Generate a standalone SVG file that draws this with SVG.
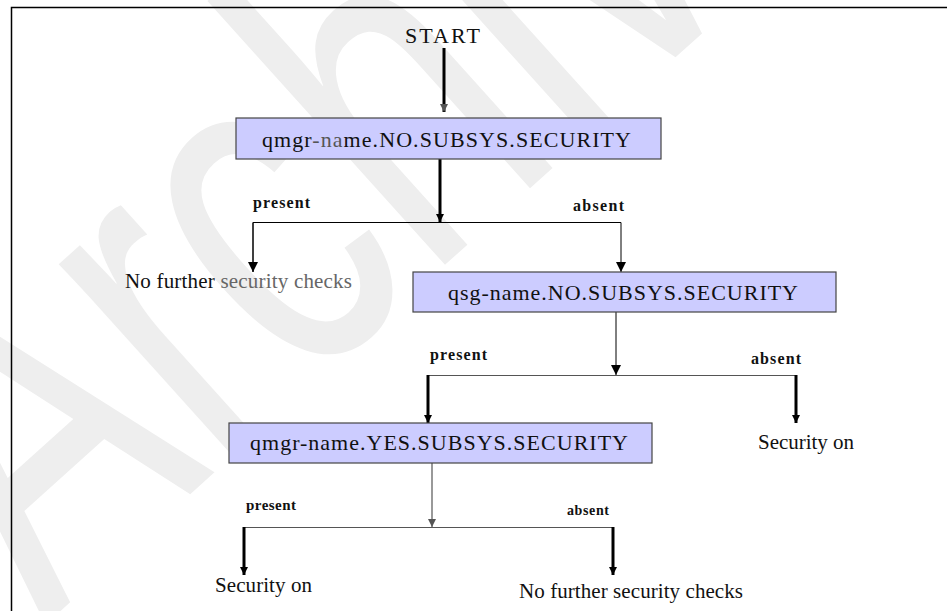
<svg xmlns="http://www.w3.org/2000/svg" width="947" height="611" viewBox="0 0 947 611">
  <style>
    text.txt { font-family: "Liberation Serif", "Times New Roman", serif; fill: #111; }
    .main { font-size: 22px; }
    .lbl { font-size: 16px; font-weight: bold; }
    .box { fill: #ccccff; stroke: #444; stroke-width: 1.2; }
    .thick { stroke: #000; stroke-width: 3; fill: none; }
    .thin { stroke: #000; stroke-width: 1; fill: none; }
    .grey { stroke: #555; stroke-width: 1.2; fill: none; }
    .mark { font-family: "Liberation Sans", Arial, sans-serif; font-size: 490px; fill: #eeeeee; }
  </style>
  <defs>
    <marker id="ah" viewBox="0 0 10 10" markerUnits="userSpaceOnUse" markerWidth="10" markerHeight="10" refX="10" refY="5" orient="auto">
      <path d="M0,0 L10,5 L0,10 z" fill="#000"/>
    </marker>
    <marker id="ahs" viewBox="0 0 10 10" markerUnits="userSpaceOnUse" markerWidth="8" markerHeight="8" refX="10" refY="5" orient="auto">
      <path d="M0,0 L10,5 L0,10 z" fill="#000"/>
    </marker>
    <marker id="ahg" viewBox="0 0 10 10" markerUnits="userSpaceOnUse" markerWidth="9" markerHeight="8" refX="10" refY="5" orient="auto">
      <path d="M0,0 L10,5 L0,10 z" fill="#555"/>
    </marker>
  </defs>

  <rect width="947" height="611" fill="#fff"/>

  <!-- background watermark -->
  <text class="mark" transform="translate(45,625) rotate(-42) scale(0.70,1)">Archive</text>

  <!-- page frame -->
  <rect x="11.5" y="7.5" width="960" height="620" fill="none" stroke="#000" stroke-width="1.5"/>

  <!-- connectors and their labels -->
  <g id="connectors">
    <line class="thick" x1="444" y1="48" x2="444" y2="112" stroke="#222" marker-end="url(#ahg)"/>
    <line class="thick" x1="440" y1="159" x2="440" y2="222" marker-end="url(#ahs)"/>
    <polyline class="thin" points="253,272 253,222.5 621,222.5 621,272" marker-end="url(#ah)"/>
    <line class="thin" x1="253" y1="222.5" x2="253" y2="272" marker-end="url(#ah)"/>
    <line class="thin" x1="616" y1="312" x2="616" y2="375" stroke-width="1.5" marker-end="url(#ah)"/>
    <line class="grey" x1="428" y1="375.5" x2="796" y2="375.5"/>
    <line class="thick" x1="428" y1="375" x2="428" y2="423" marker-end="url(#ahs)"/>
    <line class="thick" x1="796" y1="375" x2="796" y2="423" marker-end="url(#ahs)"/>
    <line class="grey" x1="432" y1="463" x2="432" y2="527" marker-end="url(#ahg)"/>
    <line class="grey" x1="244" y1="527.5" x2="613" y2="527.5" stroke-width="1.5"/>
    <line class="thick" x1="244" y1="527" x2="244" y2="575" marker-end="url(#ahs)"/>
    <line class="thick" x1="613" y1="527" x2="613" y2="575" marker-end="url(#ahs)"/>
    <text class="txt lbl" x="253" y="208" textLength="57" lengthAdjust="spacing">present</text>
    <text class="txt lbl" x="573" y="211" textLength="51" lengthAdjust="spacing">absent</text>
    <text class="txt lbl" x="430" y="360" textLength="57" lengthAdjust="spacing">present</text>
    <text class="txt lbl" x="751" y="364" textLength="50" lengthAdjust="spacing">absent</text>
    <text class="txt lbl" x="246" y="510" style="font-size:15px" textLength="50" lengthAdjust="spacing">present</text>
    <text class="txt lbl" x="567" y="515" style="font-size:14px" textLength="42" lengthAdjust="spacing">absent</text>
  </g>

  <g id="start">
    <text class="txt main" x="405" y="43" textLength="75" lengthAdjust="spacing">START</text>
  </g>

  <g id="qmgr-no-subsys">
    <rect class="box" x="236" y="118" width="425" height="41"/>
    <text class="txt main" x="262" y="147" textLength="369" lengthAdjust="spacing">qmgr<tspan fill="#555">-na</tspan>me.NO.SUBSYS.SECURITY</text>
  </g>

  <g id="no-checks-1">
    <text class="txt" style="font-size:21px" x="125" y="288" textLength="227" lengthAdjust="spacing">No further <tspan fill="#666">security checks</tspan></text>
  </g>

  <g id="qsg-no-subsys">
    <rect class="box" x="413" y="272" width="423" height="40"/>
    <text class="txt main" x="448" y="300" textLength="350" lengthAdjust="spacing">qsg-name.NO.SUBSYS.SECURITY</text>
  </g>

  <g id="security-on-1">
    <text class="txt" style="font-size:21px" x="758" y="449" textLength="96" lengthAdjust="spacing">Security on</text>
  </g>

  <g id="qmgr-yes-subsys">
    <rect class="box" x="229" y="423" width="423" height="40"/>
    <text class="txt main" x="250" y="450" textLength="378" lengthAdjust="spacing">qmgr-name.YES.SUBSYS.SECURITY</text>
  </g>

  <g id="security-on-2">
    <text class="txt" style="font-size:21px" x="215" y="592" textLength="97" lengthAdjust="spacing">Security on</text>
  </g>

  <g id="no-checks-2">
    <text class="txt" style="font-size:21px" x="519" y="598" textLength="224" lengthAdjust="spacing">No further security checks</text>
  </g>
</svg>
